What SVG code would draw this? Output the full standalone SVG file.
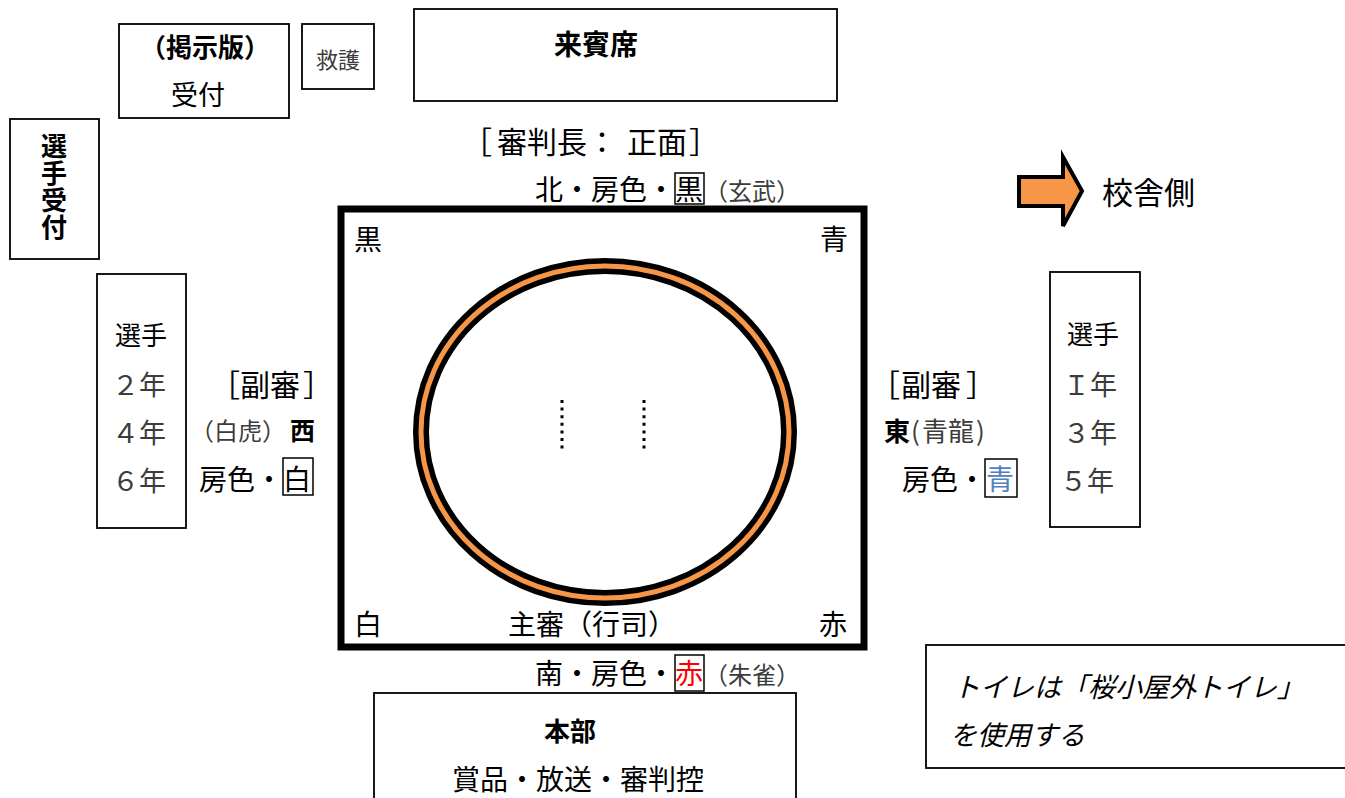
<svg xmlns="http://www.w3.org/2000/svg" width="1345" height="798" viewBox="0 0 1345 798">
<style>
text{font-family:"Noto Sans CJK JP","Noto Sans",sans-serif;fill:#000}
.box{fill:none;stroke:#000;stroke-width:1.8}
.b{font-weight:bold}
.g{fill:#3c3c3c}
.s24{font-size:24px}
.s26{font-size:26px}
.s27{font-size:27px}
.s28{font-size:28px}
.s30{font-size:30px}
.c{text-anchor:middle}
.it{font-style:italic}
</style>
<rect width="1345" height="798" fill="#fff"/>
<g id="keijiban">
<rect class="box" x="119" y="24" width="170" height="94"/>
<text class="b s26 c" x="205" y="57">（掲示版）</text>
<text class="s27 c" x="198" y="105">受付</text>
</g>
<g id="kyugo">
<rect class="box" x="302" y="24" width="72" height="65"/>
<text class="g c" style="font-size:22px" x="338" y="68">救護</text>
</g>
<g id="senshu-uketsuke">
<rect class="box" x="10" y="119" width="89" height="140"/>
<text class="b" x="54" y="133" writing-mode="vertical-rl" style="font-size:26px;letter-spacing:1px">選手受付</text>
</g>
<g id="raihinseki">
<rect class="box" x="414" y="9" width="423" height="92"/>
<text class="b s28 c" x="596" y="55">来賓席</text>
</g>
<g id="shinpancho">
<text class="s30" y="153"><tspan x="462">［</tspan><tspan x="497">審判長</tspan><tspan x="587">：</tspan><tspan x="627">正面</tspan><tspan x="689">］</tspan></text>
</g>
<g id="north">
<text class="s28" x="535" y="200">北・房色・黒</text>
<rect class="box" x="675" y="173" width="29" height="31" style="stroke-width:1.5"/>
<text class="g s24" x="704" y="200">（玄武）</text>
</g>
<g id="dohyo">
<rect x="341" y="209" width="523" height="438" fill="none" stroke="#000" stroke-width="7"/>
<ellipse cx="605" cy="432" rx="184" ry="166" fill="none" stroke="#000" stroke-width="16"/>
<ellipse cx="605" cy="432" rx="184" ry="166" fill="none" stroke="#f79646" stroke-width="5"/>
<line x1="562" y1="400" x2="562" y2="453" stroke="#000" stroke-width="3" stroke-dasharray="3 4.6"/>
<line x1="644" y1="400" x2="644" y2="453" stroke="#000" stroke-width="3" stroke-dasharray="3 4.6"/>
<text class="s28" x="354" y="250">黒</text>
<text class="s28" x="820" y="250">青</text>
<text class="s28" x="354" y="635">白</text>
<text class="s28" x="819" y="635">赤</text>
<text class="s28" x="508" y="635">主審（行司）</text>
</g>
<g id="south">
<text class="s28" x="535" y="684">南・房色・<tspan style="fill:#ff0000">赤</tspan></text>
<rect class="box" x="675" y="655" width="29" height="36" style="stroke-width:1.5"/>
<text class="g s24" x="704" y="684">（朱雀）</text>
</g>
<g id="honbu">
<rect class="box" x="374" y="693" width="422" height="115"/>
<text class="b s26 c" x="570" y="741">本部</text>
<text class="s28 c" x="578" y="790">賞品・放送・審判控</text>
</g>
<g id="senshu-left">
<rect class="box" x="97" y="274" width="89" height="254"/>
<text class="s26" x="115" y="345">選手</text>
<text class="g s27" x="112" y="395">２年</text>
<text class="g s27" x="112" y="443">４年</text>
<text class="g s27" x="112" y="491">６年</text>
</g>
<g id="west">
<text class="s30" y="396"><tspan x="210">［</tspan><tspan x="240">副審</tspan><tspan x="303">］</tspan></text>
<text class="s24" y="440"><tspan class="g" x="190">（白虎）</tspan><tspan class="b" style="font-size:25px" x="290">西</tspan></text>
<text class="s28" x="199" y="490">房色・白</text>
<rect class="box" x="283" y="458" width="30" height="37" style="stroke-width:1.5"/>
</g>
<g id="east">
<text class="s30" y="396"><tspan x="870">［</tspan><tspan x="901">副審</tspan><tspan x="966">］</tspan></text>
<text class="s26" y="441"><tspan class="b" x="884">東</tspan><tspan class="g" x="911">(</tspan><tspan class="g" x="922">青龍</tspan><tspan class="g" x="976">)</tspan></text>
<text class="s28" x="902" y="490">房色・<tspan style="fill:#4f81bd">青</tspan></text>
<rect class="box" x="985" y="459" width="32" height="38" style="stroke-width:1.5"/>
</g>
<g id="senshu-right">
<rect class="box" x="1050" y="272" width="90" height="255"/>
<text class="s26" x="1067" y="344">選手</text>
<text class="g s27" x="1063" y="395">Ｉ年</text>
<text class="g s27" x="1063" y="443">３年</text>
<text class="g s27" x="1060" y="491">５年</text>
</g>
<g id="kosha">
<polygon points="1019,177 1063,177 1063,157 1082,191 1063,226 1063,206 1019,206" fill="#f79646" stroke="#000" stroke-width="4"/>
<text style="font-size:31px" x="1102" y="204">校舎側</text>
</g>
<g id="toilet">
<rect class="box" x="926" y="645" width="430" height="123"/>
<text class="it s27" x="953" y="697">トイレは「桜小屋外トイレ」</text>
<text class="it s27" x="950" y="745">を使用する</text>
</g>
<g id="connectors"></g>
</svg>
